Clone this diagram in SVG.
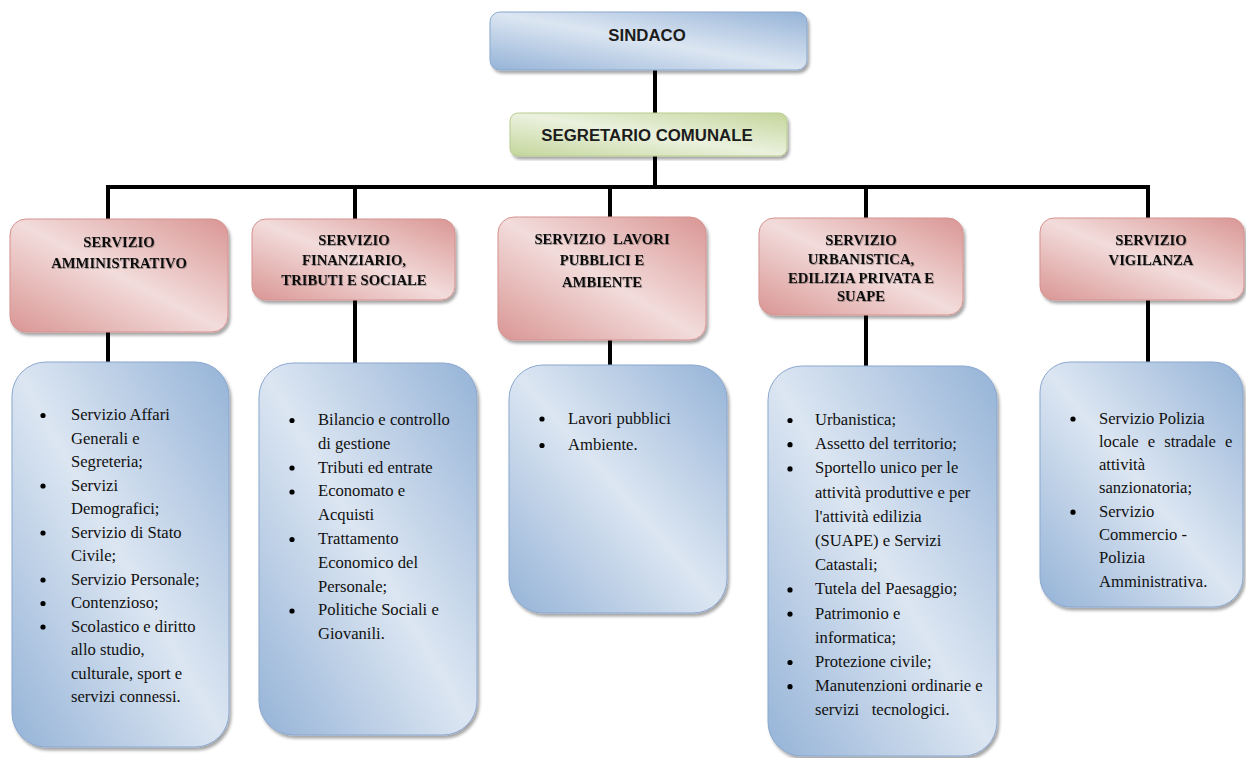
<svg xmlns="http://www.w3.org/2000/svg" width="1246" height="758" viewBox="0 0 1246 758">
<defs>
<linearGradient id="gBlue" x1="1" y1="0" x2="0" y2="1">
<stop offset="0" stop-color="#95b3d7"/>
<stop offset="0.5" stop-color="#dce6f2"/>
<stop offset="1" stop-color="#95b3d7"/>
</linearGradient>
<linearGradient id="gRed" x1="1" y1="0" x2="0" y2="1">
<stop offset="0" stop-color="#d99694"/>
<stop offset="0.5" stop-color="#f2dcdb"/>
<stop offset="1" stop-color="#d99694"/>
</linearGradient>
<linearGradient id="gGreen" x1="1" y1="0" x2="0" y2="1">
<stop offset="0" stop-color="#c3d69b"/>
<stop offset="0.5" stop-color="#ebf1de"/>
<stop offset="1" stop-color="#c3d69b"/>
</linearGradient>
<filter id="shadow" x="-5%" y="-5%" width="115%" height="115%">
<feDropShadow dx="2" dy="3" stdDeviation="1.5" flood-color="#000" flood-opacity="0.35"/>
</filter>
<filter id="tshadow" x="-5%" y="-20%" width="110%" height="150%">
<feDropShadow dx="0.8" dy="1" stdDeviation="0.6" flood-color="#000" flood-opacity="0.3"/>
</filter>
</defs>
<style>
.blue{fill:url(#gBlue);stroke:#8aa7cf;stroke-width:1;filter:url(#shadow)}
.red{fill:url(#gRed);stroke:#d49290;stroke-width:1;filter:url(#shadow)}
.green{fill:url(#gGreen);stroke:#b9cc8f;stroke-width:1;filter:url(#shadow)}
.top{font-family:"Liberation Sans",Arial,sans-serif;font-weight:bold;font-size:16.8px;fill:#1c1c1c;text-anchor:middle}
.hd{font-family:"Liberation Serif","Times New Roman",serif;font-weight:bold;font-size:14.7px;fill:#111;text-anchor:middle;filter:url(#tshadow);white-space:pre}
.it{font-family:"Liberation Serif","Times New Roman",serif;font-size:16.6px;fill:#111;white-space:pre}
.b{fill:#000}
.con{stroke:#000;stroke-width:4;fill:none}
</style>

<g id="connectors">
<line class="con" x1="655" y1="70" x2="655" y2="113"/>
<line class="con" x1="655" y1="156" x2="655" y2="187"/>
<path class="con" d="M108 219 V187 H1148 V218" stroke-linejoin="miter"/>
<line class="con" x1="355" y1="187" x2="355" y2="219"/>
<line class="con" x1="610" y1="187" x2="610" y2="217"/>
<line class="con" x1="866" y1="187" x2="866" y2="218"/>
<line class="con" x1="108" y1="332" x2="108" y2="362"/>
<line class="con" x1="355" y1="300" x2="355" y2="363"/>
<line class="con" x1="610" y1="340" x2="610" y2="365"/>
<line class="con" x1="866" y1="315" x2="866" y2="366"/>
<line class="con" x1="1148" y1="300" x2="1148" y2="362"/>
</g>

<g id="sindaco">
<rect class="blue" x="490" y="12" width="317" height="58" rx="10"/>
<text class="top" x="647" y="41">SINDACO</text>
</g>

<g id="segretario">
<rect class="green" x="510" y="113" width="277" height="43" rx="8"/>
<text class="top" x="647" y="141">SEGRETARIO COMUNALE</text>
</g>

<g id="servizio-amministrativo">
<rect class="red" x="10" y="219" width="218" height="113" rx="16"/>
<text class="hd" x="119" y="247">SERVIZIO</text>
<text class="hd" x="119" y="268">AMMINISTRATIVO</text>
</g>

<g id="servizio-finanziario">
<rect class="red" x="252" y="219" width="203" height="81" rx="14"/>
<text class="hd" x="354" y="245">SERVIZIO</text>
<text class="hd" x="354" y="265">FINANZIARIO,</text>
<text class="hd" x="354" y="285">TRIBUTI E SOCIALE</text>
</g>

<g id="servizio-lavori">
<rect class="red" x="498" y="217" width="208" height="123" rx="16"/>
<text class="hd" x="602" y="244">SERVIZIO  LAVORI</text>
<text class="hd" x="602" y="265">PUBBLICI E</text>
<text class="hd" x="602" y="287">AMBIENTE</text>
</g>

<g id="servizio-urbanistica">
<rect class="red" x="759" y="218" width="204" height="97" rx="15"/>
<text class="hd" x="861" y="245">SERVIZIO</text>
<text class="hd" x="861" y="264">URBANISTICA,</text>
<text class="hd" x="861" y="283">EDILIZIA PRIVATA E</text>
<text class="hd" x="861" y="301">SUAPE</text>
</g>

<g id="servizio-vigilanza">
<rect class="red" x="1040" y="218" width="204" height="82" rx="14"/>
<text class="hd" x="1151" y="245">SERVIZIO</text>
<text class="hd" x="1151" y="265">VIGILANZA</text>
</g>

<g id="elenco-amministrativo">
<rect class="blue" x="12" y="362" width="217" height="385" rx="34"/>
<circle class="b" cx="43" cy="415.5" r="2.6"/>
<circle class="b" cx="43" cy="486" r="2.6"/>
<circle class="b" cx="43" cy="533" r="2.6"/>
<circle class="b" cx="43" cy="580" r="2.6"/>
<circle class="b" cx="43" cy="603.5" r="2.6"/>
<circle class="b" cx="43" cy="627" r="2.6"/>
<text class="it" x="71" y="420">Servizio Affari</text>
<text class="it" x="71" y="443.5">Generali e</text>
<text class="it" x="71" y="467">Segreteria;</text>
<text class="it" x="71" y="490.5">Servizi</text>
<text class="it" x="71" y="514">Demografici;</text>
<text class="it" x="71" y="537.5">Servizio di Stato</text>
<text class="it" x="71" y="561">Civile;</text>
<text class="it" x="71" y="584.5">Servizio Personale;</text>
<text class="it" x="71" y="608">Contenzioso;</text>
<text class="it" x="71" y="631.5">Scolastico e diritto</text>
<text class="it" x="71" y="655">allo studio,</text>
<text class="it" x="71" y="678.5">culturale, sport e</text>
<text class="it" x="71" y="702">servizi connessi.</text>
</g>

<g id="elenco-finanziario">
<rect class="blue" x="259" y="363" width="218" height="372" rx="34"/>
<circle class="b" cx="292" cy="420.5" r="2.6"/>
<circle class="b" cx="292" cy="468" r="2.6"/>
<circle class="b" cx="292" cy="492" r="2.6"/>
<circle class="b" cx="292" cy="539.5" r="2.6"/>
<circle class="b" cx="292" cy="611" r="2.6"/>
<text class="it" x="318" y="425">Bilancio e controllo</text>
<text class="it" x="318" y="448.8">di gestione</text>
<text class="it" x="318" y="472.6">Tributi ed entrate</text>
<text class="it" x="318" y="496.4">Economato e</text>
<text class="it" x="318" y="520.2">Acquisti</text>
<text class="it" x="318" y="544">Trattamento</text>
<text class="it" x="318" y="567.8">Economico del</text>
<text class="it" x="318" y="591.6">Personale;</text>
<text class="it" x="318" y="615.4">Politiche Sociali e</text>
<text class="it" x="318" y="639.2">Giovanili.</text>
</g>

<g id="elenco-lavori">
<rect class="blue" x="509" y="365" width="218" height="248" rx="34"/>
<circle class="b" cx="542" cy="419" r="2.6"/>
<circle class="b" cx="542" cy="445.5" r="2.6"/>
<text class="it" x="568" y="423.5">Lavori pubblici</text>
<text class="it" x="568" y="450">Ambiente.</text>
</g>

<g id="elenco-urbanistica">
<rect class="blue" x="768" y="366" width="229" height="390" rx="34"/>
<circle class="b" cx="790" cy="420.5" r="2.6"/>
<circle class="b" cx="790" cy="444.7" r="2.6"/>
<circle class="b" cx="790" cy="468.9" r="2.6"/>
<circle class="b" cx="790" cy="589.9" r="2.6"/>
<circle class="b" cx="790" cy="614.1" r="2.6"/>
<circle class="b" cx="790" cy="662.5" r="2.6"/>
<circle class="b" cx="790" cy="686.7" r="2.6"/>
<text class="it" x="815" y="425">Urbanistica;</text>
<text class="it" x="815" y="449.2">Assetto del territorio;</text>
<text class="it" x="815" y="473.4">Sportello unico per le</text>
<text class="it" x="815" y="497.6">attività produttive e per</text>
<text class="it" x="815" y="521.8">l'attività edilizia</text>
<text class="it" x="815" y="546">(SUAPE) e Servizi</text>
<text class="it" x="815" y="570.2">Catastali;</text>
<text class="it" x="815" y="594.4">Tutela del Paesaggio;</text>
<text class="it" x="815" y="618.6">Patrimonio e</text>
<text class="it" x="815" y="642.8">informatica;</text>
<text class="it" x="815" y="667">Protezione civile;</text>
<text class="it" x="815" y="691.2">Manutenzioni ordinarie e</text>
<text class="it" x="815" y="715.4">servizi   tecnologici.</text>
</g>

<g id="elenco-vigilanza">
<rect class="blue" x="1040" y="362" width="203" height="245" rx="30"/>
<circle class="b" cx="1073" cy="419" r="2.6"/>
<circle class="b" cx="1073" cy="512.2" r="2.6"/>
<text class="it" x="1099" y="423.5">Servizio Polizia</text>
<text class="it" x="1099" y="446.8" word-spacing="5">locale e stradale e</text>
<text class="it" x="1099" y="470.1">attività</text>
<text class="it" x="1099" y="493.4">sanzionatoria;</text>
<text class="it" x="1099" y="516.7">Servizio</text>
<text class="it" x="1099" y="540">Commercio -</text>
<text class="it" x="1099" y="563.3">Polizia</text>
<text class="it" x="1099" y="586.6">Amministrativa.</text>
</g>
</svg>
